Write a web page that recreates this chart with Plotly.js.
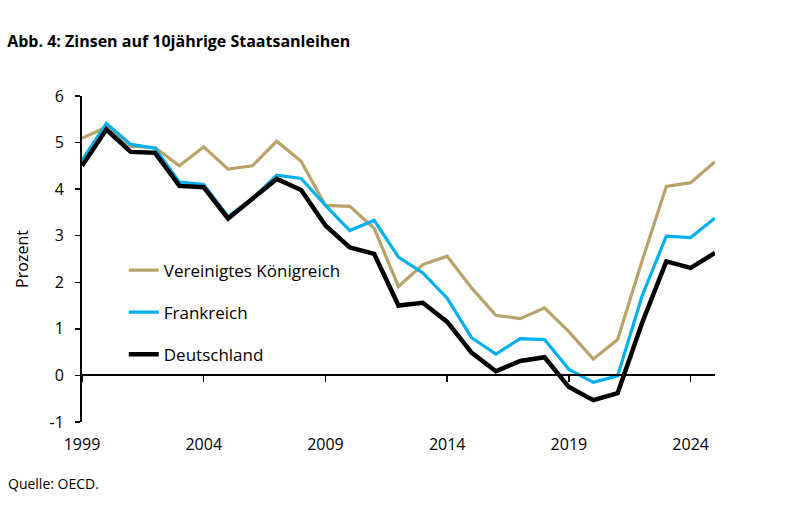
<!DOCTYPE html>
<html>
<head>
<meta charset="utf-8">
<script src="https://cdn.plot.ly/plotly-3.0.1.min.js"></script>
<style>html,body{margin:0;padding:0;background:#fff;}#chart{width:794px;height:529px;}</style>
</head>
<body>
<div id="chart"></div>
<script>
const years = [1999,2000,2001,2002,2003,2004,2005,2006,2007,2008,2009,2010,2011,2012,2013,2014,2015,2016,2017,2018,2019,2020,2021,2022,2023,2024,2025];
const uk = [5.09,5.33,4.92,4.89,4.50,4.91,4.43,4.50,5.03,4.60,3.65,3.63,3.16,1.91,2.38,2.56,1.88,1.29,1.22,1.45,0.94,0.35,0.77,2.45,4.06,4.14,4.59];
const france = [4.62,5.41,4.96,4.88,4.15,4.10,3.41,3.80,4.30,4.23,3.65,3.11,3.33,2.54,2.20,1.66,0.81,0.46,0.79,0.77,0.13,-0.15,-0.01,1.70,2.99,2.96,3.38];
const germany = [4.50,5.28,4.80,4.78,4.07,4.04,3.37,3.78,4.22,3.98,3.22,2.75,2.61,1.50,1.56,1.15,0.49,0.09,0.31,0.39,-0.25,-0.53,-0.38,1.12,2.45,2.31,2.63];
const names = ["Vereinigtes Königreich","Frankreich","Deutschland"];
const tickYears = [1999,2004,2009,2014,2019,2024];
const yTicks = [-1,0,1,2,3,4,5,6];
const yTickText = ["-1","0","1","2","3","4","5","6"];

const font = "Open Sans, Noto Sans, sans-serif";
const traces = [
  {x: years, y: uk, name: names[0], mode: "lines", line: {color: "#B8A36B", width: 3.2}, legendgroup: "a"},
  {x: years, y: france, name: names[1], mode: "lines", line: {color: "#00B0F0", width: 3.2}, legendgroup: "b"},
  {x: years, y: germany, name: names[2], mode: "lines", line: {color: "#000000", width: 4.5}, legendgroup: "c"}
];
const layout = {
  width: 794, height: 529,
  margin: {l: 82, r: 79, t: 96, b: 107},
  paper_bgcolor: "#fff", plot_bgcolor: "#fff",
  font: {family: font, color: "#000", size: 16},
  title: {text: "<b>Abb. 4: Zinsen auf 10jährige Staatsanleihen</b>", x: 0.009, xanchor: "left", y: 0.921, yanchor: "middle", font: {size: 16, family: font}},
  showlegend: true,
  legend: {x: 0.066, xanchor: "left", y: 0.52, yanchor: "top", bgcolor: "rgba(0,0,0,0)", font: {size: 17, family: font}, tracegroupgap: 17, traceorder: "grouped"},
  xaxis: {
    range: [1999, 2025], anchor: "free", position: 1/7,
    showline: true, linecolor: "#000", linewidth: 2,
    ticks: "outside", ticklen: 6, tickwidth: 1.5, tickcolor: "#000",
    tickvals: tickYears, showticklabels: false, showgrid: false, zeroline: false, fixedrange: true
  },
  xaxis2: {
    range: [1999, 2025], overlaying: "x", anchor: "y", side: "bottom",
    showline: false, ticks: "", tickvals: tickYears, ticktext: tickYears.map(String),
    ticklabelstandoff: 11, showgrid: false, zeroline: false, tickfont: {size: 16, family: font}
  },
  yaxis: {
    range: [-1, 6], tickvals: yTicks, ticktext: yTickText,
    showline: true, linecolor: "#000", linewidth: 2,
    ticks: "outside", ticklen: 5, tickwidth: 1.5, tickcolor: "#000",
    ticklabelstandoff: 8,
    showgrid: false, zeroline: false, tickfont: {size: 16, family: font},
    title: {text: "Prozent", font: {size: 16, family: font}, standoff: 17}
  },
  annotations: [
    {text: "Quelle: OECD.", xref: "paper", yref: "paper", x: -0.12, y: -0.19, xanchor: "left", yanchor: "middle", showarrow: false, font: {size: 14, family: font}}
  ]
};
traces.push({x: [years[0]], y: [uk[0]], xaxis: "x2", mode: "markers", marker: {opacity: 0}, showlegend: false, hoverinfo: "skip"});
Plotly.newPlot("chart", traces, layout, {staticPlot: true});
</script>
</body>
</html>
